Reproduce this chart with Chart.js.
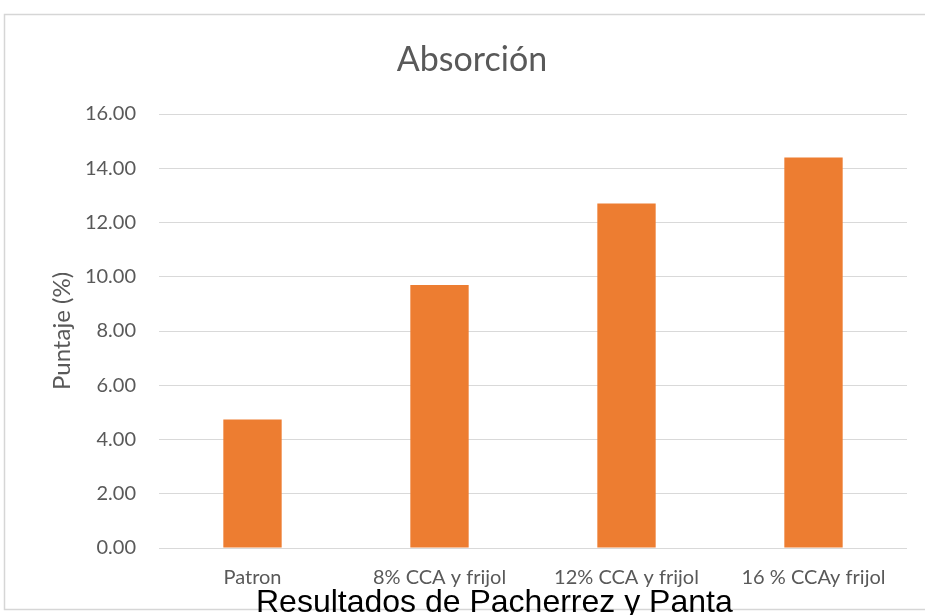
<!DOCTYPE html>
<html>
<head>
<meta charset="utf-8">
<script src="https://cdn.jsdelivr.net/npm/chart.js@4/dist/chart.umd.min.js"></script>
<style>
  html, body { margin: 0; padding: 0; background: #ffffff; overflow: hidden; }
  #wrap { position: relative; width: 925px; height: 615px; overflow: hidden; }
  #c { display: block; }
  #titulo {
    position: absolute; left: 0; top: 38px; width: 944px; text-align: center;
    font-family: Lato, "Open Sans", sans-serif; font-size: 34px; line-height: 40px;
    color: #595959; white-space: nowrap;
  }
  #fuente {
    position: absolute; left: 256px; top: 585px;
    font-family: "Liberation Sans", Arial, sans-serif; font-size: 32px; line-height: 32px;
    color: #000000; white-space: nowrap;
  }
</style>
</head>
<body>
<div id="wrap">
  <canvas id="c" width="925" height="615"></canvas>
  <div id="titulo">Absorción</div>
  <div id="fuente">Resultados de Pacherrez y Panta</div>
</div>
<script>
// Absorción por mezcla
const categorias = ["Patron", "8% CCA y frijol", "12% CCA y frijol", "16 % CCAy frijol"];
const absorcion = [4.74, 9.70, 12.70, 14.40];
const ejeMin = 0;
const ejeMax = 16;
const ejePaso = 2;

const gris = "#595959";
const fuente = "Lato, 'Open Sans', sans-serif";

// Thin gray frame around the chart area
const marco = {
  id: "marco",
  beforeDraw(chart) {
    const ctx = chart.ctx;
    ctx.save();
    ctx.strokeStyle = "#d6d6d6";
    ctx.lineWidth = 1.5;
    ctx.beginPath();
    ctx.moveTo(930, 14.5);
    ctx.lineTo(4.5, 14.5);
    ctx.lineTo(4.5, 609.5);
    ctx.lineTo(930, 609.5);
    ctx.stroke();
    ctx.restore();
  }
};

new Chart(document.getElementById("c"), {
  type: "bar",
  data: {
    labels: categorias,
    datasets: [{
      label: "Absorción",
      data: absorcion,
      backgroundColor: "#ED7D31",
      borderWidth: 0,
      categoryPercentage: 1,
      barPercentage: 0.312
    }]
  },
  options: {
    responsive: false,
    animation: false,
    layout: { padding: { left: 0, right: 18, top: 114, bottom: 0 } },
    plugins: {
      legend: { display: false },
      tooltip: { enabled: false },
      title: { display: false }
    },
    scales: {
      x: {
        grid: { display: false, drawTicks: false },
        border: { display: false },
        ticks: {
          color: gris,
          font: { family: fuente, size: 20 },
          padding: 18,
          maxRotation: 0,
          autoSkip: false
        },
        afterFit(scale) { scale.height = 67; }
      },
      y: {
        min: ejeMin,
        max: ejeMax,
        grid: { color: "#d9d9d9", lineWidth: 1, drawTicks: false },
        border: { display: false },
        ticks: {
          stepSize: ejePaso,
          color: gris,
          font: { family: fuente, size: 20 },
          padding: 23,
          callback: (v) => Number(v).toFixed(2)
        },
        title: {
          display: true,
          text: "Puntaje (%)",
          color: gris,
          font: { family: fuente, size: 24, lineHeight: 1.2 },
          padding: { top: 48, bottom: 0 }
        },
        afterFit(scale) { scale.width = 159; }
      }
    }
  },
  plugins: [marco]
});
</script>
</body>
</html>
